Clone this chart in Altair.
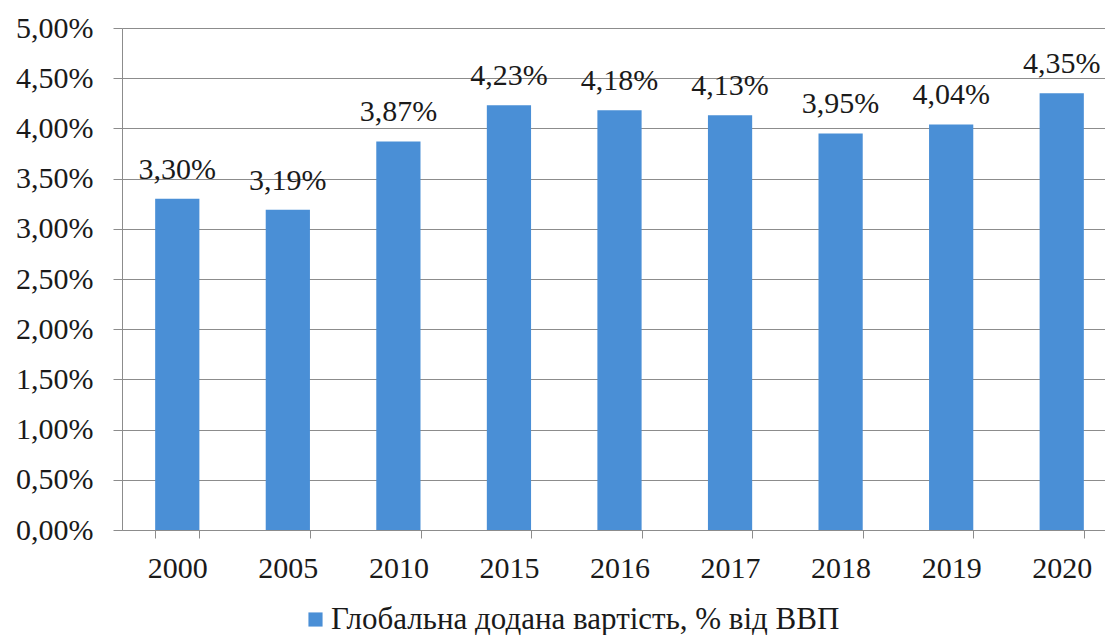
import altair as alt
import pandas as pd

years = ["2000", "2005", "2010", "2015", "2016", "2017", "2018", "2019", "2020"]
values = [3.30, 3.19, 3.87, 4.23, 4.18, 4.13, 3.95, 4.04, 4.35]
series_name = "Глобальна додана вартість, % від ВВП"
y_ticks = [0, 0.5, 1, 1.5, 2, 2.5, 3, 3.5, 4, 4.5, 5]

df = pd.DataFrame({
    "year": years,
    "value": values,
    "label": [f"{v:.2f}".replace(".", ",") + "%" for v in values],
    "series": [series_name] * len(years),
})

FONT = "Liberation Serif"
BAR = "#4A8FD6"
GRID = "#8c8c8c"

x_enc = alt.X(
    "year:O",
    sort=years,
    scale=alt.Scale(paddingInner=0.6, paddingOuter=0.3),
    axis=alt.Axis(
        title=None, labelAngle=0, tickBand="extent", tickSize=8,
        domainColor=GRID, tickColor=GRID, labelFont=FONT, labelFontSize=30,
        labelColor="#1a1a1a", labelPadding=15, grid=False,
    ),
)
y_scale = alt.Scale(domain=[0, 5], nice=False)

bars = alt.Chart(df).mark_bar(color=BAR).encode(
    x=x_enc,
    y=alt.Y(
        "value:Q",
        scale=y_scale,
        axis=alt.Axis(
            title=None, values=y_ticks, tickSize=9, tickColor=GRID,
            domainColor=GRID, gridColor=GRID, grid=True,
            labelExpr="replace(format(datum.value, '.2f'), '.', ',') + '%'",
            labelFont=FONT, labelFontSize=30, labelColor="#1a1a1a",
            labelPadding=20,
        ),
    ),
    color=alt.Color(
        "series:N",
        scale=alt.Scale(range=[BAR]),
        legend=alt.Legend(
            title=None, orient="none", legendX=178, legendY=576,
            symbolType="square", symbolSize=200, symbolStrokeWidth=0,
            labelFont=FONT, labelFontSize=31, labelColor="#1a1a1a",
            labelLimit=1000, symbolOffset=0, labelOffset=0,
        ),
    ),
)

texts = alt.Chart(df).mark_text(
    font=FONT, fontSize=30, color="#1a1a1a", baseline="alphabetic", dy=-20
).encode(
    x=alt.X("year:O", sort=years),
    y=alt.Y("value:Q", scale=y_scale),
    text="label:N",
)

chart = (bars + texts).properties(
    width=995, height=502,
    autosize=alt.AutoSizeParams(type="none"),
    padding={"left": 114, "top": 20, "right": -12, "bottom": 105},
).configure_view(stroke=None).configure(background="white")

chart.save("out.html", embed_options={"renderer": "svg", "actions": False})
